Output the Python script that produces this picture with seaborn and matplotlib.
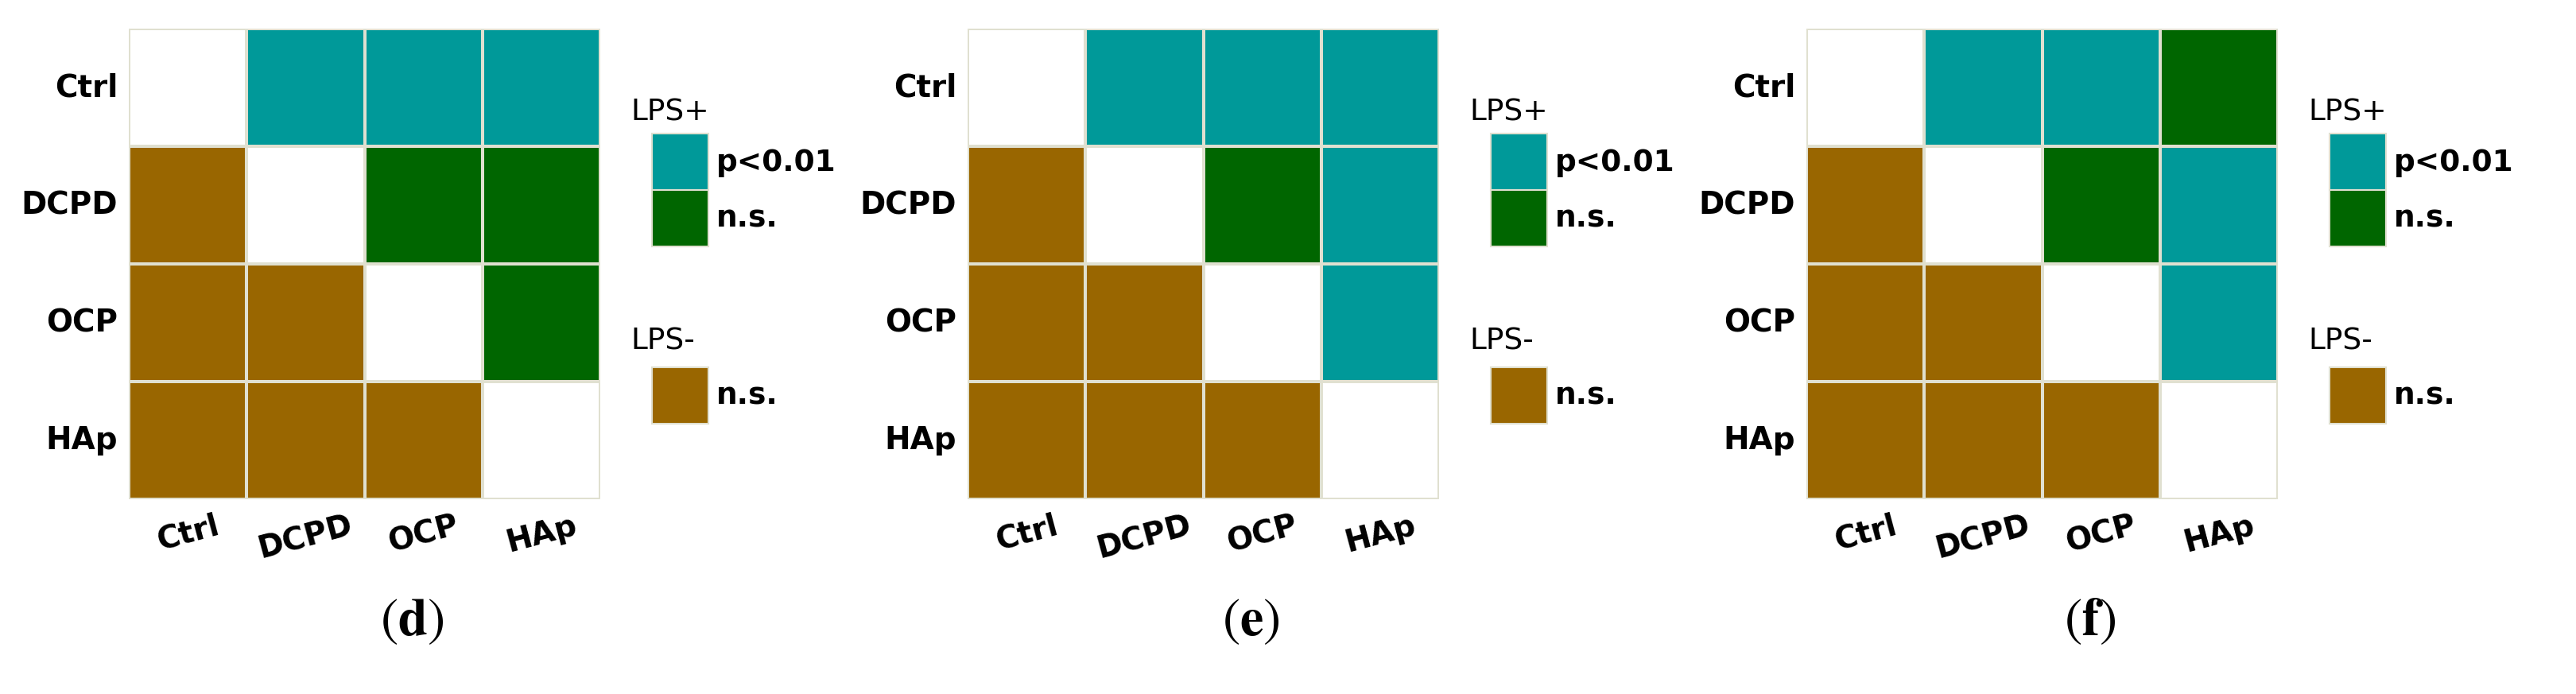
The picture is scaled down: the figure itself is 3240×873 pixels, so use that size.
import numpy as np
import matplotlib
matplotlib.use("Agg")
import matplotlib.pyplot as plt
from matplotlib.colors import ListedColormap
from matplotlib.patches import Rectangle
import seaborn as sns

sns.set_style("white")
plt.rcParams['font.family'] = ['DejaVu Sans']
plt.rcParams['mathtext.fontset'] = 'stix'
plt.rcParams['text.color'] = 'black'
plt.rcParams['xtick.color'] = 'black'
plt.rcParams['ytick.color'] = 'black'

groups = ["Ctrl", "DCPD", "OCP", "HAp"]
panel_letters = ["d", "e", "f"]
# 0 = LPS+ p<0.01, 1 = LPS+ n.s., 2 = LPS- n.s., nan = diagonal
panel_d = [[np.nan, 0, 0, 0],
           [2, np.nan, 1, 1],
           [2, 2, np.nan, 1],
           [2, 2, 2, np.nan]]
panel_e = [[np.nan, 0, 0, 0],
           [2, np.nan, 1, 0],
           [2, 2, np.nan, 0],
           [2, 2, 2, np.nan]]
panel_f = [[np.nan, 0, 0, 1],
           [2, np.nan, 1, 0],
           [2, 2, np.nan, 0],
           [2, 2, 2, np.nan]]
panels = [panel_d, panel_e, panel_f]
colors = ["#009999", "#006600", "#996600"]
cmap = ListedColormap(colors)

W, H = 1600.0, 431.0
fig = plt.figure(figsize=(32.4, 8.73), dpi=100)
lefts = [80, 601, 1122]
for k, (data, lx) in enumerate(zip(panels, lefts)):
    arr = np.array(data, dtype=float)
    ax = fig.add_axes([lx / W, 1 - 310 / H, 293 / W, 292 / H])
    sns.heatmap(arr, ax=ax, cmap=cmap, vmin=-0.5, vmax=2.5, cbar=False,
                mask=np.isnan(arr), linewidths=1.5, linecolor="#e0e0d0",
                square=False)
    for s in ax.spines.values():
        s.set_visible(False)
    ax.set_xticks(np.arange(4) + 0.5)
    ax.set_yticks(np.arange(4) + 0.5)
    ax.set_xticklabels(groups, rotation=15, fontsize=28, fontweight="bold")
    ax.set_yticklabels(groups, rotation=0, fontsize=28, fontweight="bold")
    ax.tick_params(length=0, pad=10)
    off = lx - 80
    fig.text((392 + off) / W, 1 - 70 / H, "LPS+", fontsize=27, va="center")
    fig.text((392 + off) / W, 1 - 212 / H, "LPS-", fontsize=27, va="center")
    sq_w, sq_h = 35 / W, 35 / H
    for y0, c, lab in [(118, colors[0], "p<0.01"), (153, colors[1], "n.s."),
                       (263, colors[2], "n.s.")]:
        fig.patches.append(Rectangle(((405 + off) / W, 1 - y0 / H), sq_w, sq_h,
                                     transform=fig.transFigure, facecolor=c,
                                     edgecolor="#e0e0d0", linewidth=1.5))
        fig.text((445 + off) / W, 1 - (y0 - 17) / H, lab, fontsize=27,
                 fontweight="bold", va="center")
    fig.text((lx + 176) / W, 1 - 385 / H, r"$(\mathbf{%s})$" % panel_letters[k],
             fontsize=48, ha="center", va="center")

fig.savefig("out.png", dpi=100)
